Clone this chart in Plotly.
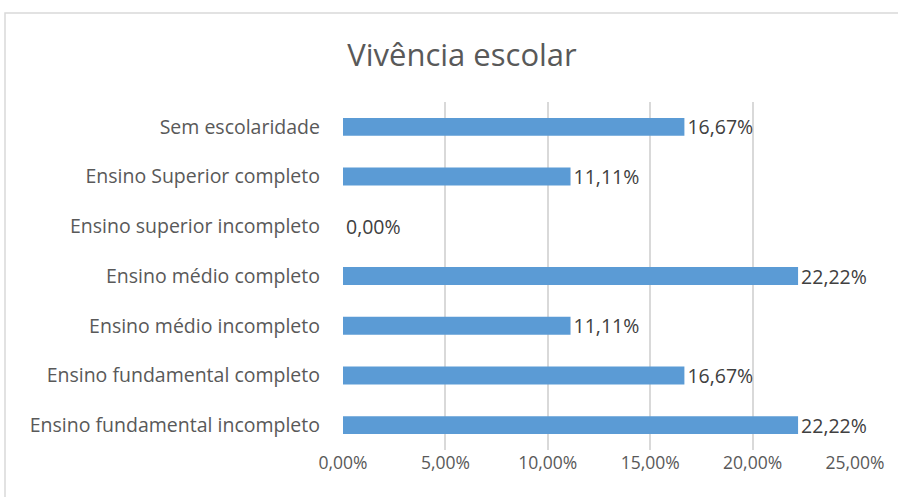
import plotly.graph_objects as go

# Escolaridade (ordem de cima para baixo) e percentuais
categorias = [
    "Sem escolaridade",
    "Ensino Superior completo",
    "Ensino superior incompleto",
    "Ensino médio completo",
    "Ensino médio incompleto",
    "Ensino fundamental completo",
    "Ensino fundamental incompleto",
]
percentuais = [0.1667, 0.1111, 0.0, 0.2222, 0.1111, 0.1667, 0.2222]
ticks_x = [0, 0.05, 0.10, 0.15, 0.20, 0.25]

W, H = 898, 497
L, R, T, B = 343, 43, 102, 47
pw, ph = W - L - R, H - T - B
FONTE = "Open Sans"

fig = go.Figure(
    go.Bar(
        x=percentuais,
        y=categorias,
        orientation="h",
        marker=dict(color="#5B9BD5", line=dict(width=0)),
        width=0.36,
        text=percentuais,
        texttemplate="%{x:.2%}",
        textposition="outside",
        constraintext="none",
        cliponaxis=False,
        textfont=dict(family=FONTE, size=19.5, color="#404040"),
    )
)

fig.update_layout(
    width=W,
    height=H,
    margin=dict(l=L, r=R, t=T, b=B),
    separators=",.",
    paper_bgcolor="white",
    plot_bgcolor="white",
    showlegend=False,
    title=dict(
        text="Vivência escolar",
        x=(462 - L) / pw,
        xref="paper",
        xanchor="center",
        y=1 - 55 / H,
        yanchor="middle",
        font=dict(family=FONTE, size=31, color="#595959"),
    ),
    xaxis=dict(
        range=[0, 0.25],
        tickvals=ticks_x,
        tickformat=".2%",
        showgrid=True,
        gridcolor="#D9D9D9",
        gridwidth=1.5,
        zeroline=False,
        showline=False,
        ticks="",
        ticklabelstandoff=0,
        tickfont=dict(family=FONTE, size=17.5, color="#595959"),
    ),
    yaxis=dict(
        autorange="reversed",
        showgrid=False,
        zeroline=False,
        showline=False,
        ticks="",
        ticklabelstandoff=22,
        tickfont=dict(family=FONTE, size=19.5, color="#595959"),
    ),
    shapes=[
        dict(
            type="rect",
            xref="paper",
            yref="paper",
            x0=(5 - L) / pw,
            x1=(910 - L) / pw,
            y0=(H - B - 510) / ph,
            y1=(H - B - 13) / ph,
            line=dict(color="#D9D9D9", width=1.5),
            fillcolor="rgba(0,0,0,0)",
            layer="below",
        )
    ],
)

fig.write_html("out.html")
